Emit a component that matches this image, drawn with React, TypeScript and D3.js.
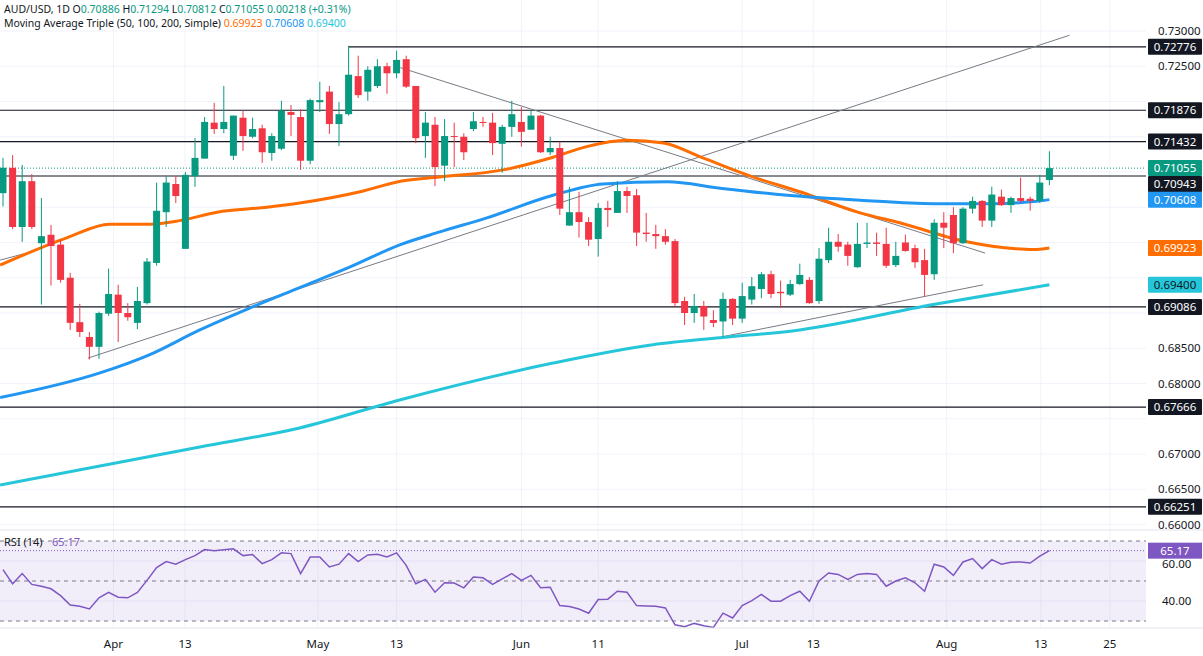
import React from "react";
import * as d3 from "d3";

// OHLC per daily candle (index 0 = first visible bar)
const opens = [0.7070,0.7106,0.7022,0.7087,0.6999,0.7011,0.6997,0.6950,0.6887,0.6866,0.6852,0.6899,0.6926,0.6900,0.6886,0.6914,0.6971,0.7043,0.7083,0.6991,0.7094,0.7119,0.7170,0.7161,0.7123,0.7177,0.7150,0.7162,0.7127,0.7133,0.7185,0.7178,0.7116,0.7199,0.7214,0.7168,0.7182,0.7236,0.7214,0.7222,0.7250,0.7240,0.7260,0.7222,0.7151,0.7167,0.7109,0.7151,0.7150,0.7161,0.7171,0.7170,0.7140,0.7164,0.7171,0.7160,0.7180,0.7128,0.7134,0.7024,0.7043,0.7029,0.7005,0.7049,0.7042,0.7073,0.7067,0.7014,0.7012,0.7009,0.7002,0.6917,0.6900,0.6910,0.6890,0.6888,0.6920,0.6892,0.6919,0.6934,0.6955,0.6930,0.6926,0.6941,0.6947,0.6917,0.6975,0.7001,0.6997,0.6965,0.6998,0.7000,0.6998,0.6968,0.7000,0.6992,0.6975,0.6955,0.7028,0.7039,0.6999,0.7048,0.7059,0.7031,0.7065,0.7053,0.7063,0.7062,0.7059,0.70886];
const highs = [0.7120,0.7124,0.7110,0.7097,0.7063,0.7025,0.7004,0.6957,0.6913,0.6873,0.6902,0.6963,0.6940,0.6914,0.6937,0.6978,0.7085,0.7094,0.7094,0.7100,0.7148,0.7178,0.7198,0.7222,0.7180,0.7187,0.7177,0.7167,0.7155,0.7201,0.7195,0.7189,0.7204,0.7228,0.7222,0.7199,0.7279,0.7265,0.7250,0.7260,0.7255,0.7272,0.7265,0.7222,0.7185,0.7178,0.7175,0.7170,0.7155,0.7185,0.7178,0.7184,0.7167,0.7201,0.7192,0.7188,0.7181,0.7150,0.7143,0.7079,0.7072,0.7036,0.7056,0.7059,0.7087,0.7079,0.7076,0.7042,0.7025,0.7019,0.7005,0.6923,0.6927,0.6917,0.6904,0.6929,0.6921,0.6943,0.6951,0.6958,0.6960,0.6946,0.6947,0.6970,0.6951,0.6992,0.7021,0.7012,0.7001,0.7028,0.7028,0.7014,0.7021,0.7001,0.7011,0.6997,0.6991,0.7033,0.7043,0.7050,0.7050,0.7065,0.7060,0.7079,0.7075,0.7065,0.7092,0.7065,0.7096,0.71294];
const lows = [0.7051,0.7019,0.7001,0.7019,0.6912,0.6939,0.6943,0.6876,0.6866,0.6834,0.6835,0.6896,0.6859,0.6889,0.6877,0.6912,0.6967,0.7022,0.7056,0.6991,0.7079,0.7119,0.7154,0.7155,0.7117,0.7130,0.7148,0.7113,0.7116,0.7131,0.7151,0.7103,0.7111,0.7185,0.7154,0.7137,0.7180,0.7205,0.7201,0.7219,0.7211,0.7233,0.7219,0.7141,0.7120,0.7080,0.7087,0.7107,0.7117,0.7158,0.7164,0.7124,0.7099,0.7150,0.7136,0.7160,0.7127,0.7124,0.7039,0.7024,0.7007,0.6995,0.6980,0.7022,0.7042,0.7042,0.6995,0.7001,0.6991,0.6997,0.6909,0.6883,0.6886,0.6876,0.6880,0.6866,0.6883,0.6886,0.6912,0.6921,0.6921,0.6907,0.6924,0.6940,0.6913,0.6913,0.6971,0.6987,0.6967,0.6964,0.6992,0.6981,0.6964,0.6965,0.6987,0.6964,0.6923,0.6947,0.6992,0.6985,0.6998,0.7041,0.7022,0.7022,0.7052,0.7042,0.7056,0.7045,0.7056,0.70812];
const closes = [0.7106,0.7022,0.7087,0.7022,0.7009,0.6995,0.6947,0.6886,0.6873,0.6852,0.6900,0.6927,0.6900,0.6894,0.6917,0.6973,0.7045,0.7085,0.7066,0.7096,0.7120,0.7171,0.7161,0.7171,0.7180,0.7151,0.7161,0.7128,0.7151,0.7187,0.7181,0.7116,0.7202,0.7202,0.7168,0.7182,0.7238,0.7209,0.7245,0.7250,0.7240,0.7259,0.7221,0.7148,0.7170,0.7107,0.7151,0.7150,0.7128,0.7172,0.7170,0.7141,0.7164,0.7182,0.7157,0.7180,0.7128,0.7134,0.7048,0.7043,0.7029,0.7004,0.7049,0.7046,0.7073,0.7066,0.7014,0.7012,0.7009,0.7001,0.6914,0.6900,0.6910,0.6895,0.6886,0.6920,0.6892,0.6924,0.6938,0.6955,0.6927,0.6928,0.6941,0.6954,0.6914,0.6977,0.7001,0.6994,0.6981,0.6998,0.7000,0.6998,0.6967,0.6981,0.6988,0.6972,0.6954,0.7028,0.7021,0.6999,0.7048,0.7059,0.7031,0.7068,0.7053,0.7063,0.7059,0.7059,0.7085,0.71055];

// Moving averages sampled [barIndex, value]
const sma50 = [[-0.3,0.6968],[6.7,0.7007],[11.1,0.7026],[15.3,0.7026],[18.4,0.7031],[22.3,0.7043],[27.5,0.7050],[30.9,0.7056],[37.2,0.7072],[41.4,0.7087],[45.5,0.7093],[52.1,0.7103],[57.3,0.7121],[60.8,0.7136],[65,0.7145],[68.8,0.7141],[72.9,0.7120],[78.1,0.7093],[83,0.7072],[89.3,0.7042],[93.4,0.7028],[100.4,0.7001],[105.5,0.6991],[107.3,0.6990],[109,0.69923]];
const sma100 = [[-0.3,0.6780],[10.1,0.6815],[15.3,0.6841],[20.5,0.6876],[25.7,0.6907],[30.9,0.6936],[36.1,0.6965],[41.4,0.6997],[45.5,0.7015],[50.4,0.7035],[57.3,0.7067],[62.5,0.7083],[69.2,0.7086],[74.7,0.7077],[81.7,0.7067],[89.3,0.7060],[96.9,0.7055],[103,0.7055],[107.3,0.7058],[109,0.70608]];
const sma200 = [[-0.3,0.6656],[10.1,0.6683],[20.5,0.6710],[30.9,0.6737],[41.4,0.6777],[57.3,0.6829],[67.7,0.6855],[74.7,0.6865],[83,0.6876],[96.9,0.6912],[109,0.6940]];

const rsi = [55.7,48.6,53.7,48.3,47.4,46.1,42.7,38,37.4,36,41.6,44.3,41.9,41.6,44.3,50.3,56.7,59.7,58.4,60.7,62.7,65.7,65.1,65.6,66.1,62.7,63.2,58.7,60.7,64.1,63.7,53.7,62,62,57,58.4,63.7,59.7,63,63.4,62,64.1,57.8,48.6,50.8,44.4,49.1,49,46.6,52,51.6,48.3,51.1,53.7,50.3,52.8,46.6,46.9,37.7,37.2,36,33.9,40.7,40.9,44.9,44.4,37.7,37.5,37.4,36.5,28.1,27.1,28.8,27.6,26.8,33.9,31.5,37.7,40.2,43.3,39.9,39.9,42.7,44.9,39.9,50,54,53.3,50.8,53.3,53.7,53.3,47.4,50,51.6,49.1,44.9,58.4,57,52.8,59.5,61.2,56.2,60.7,58.4,59.4,59.5,59,62.4,65.17];

const levels = [0.72776,0.71876,0.71432,0.70943,0.69086,0.67666,0.66251];
const trendLines = [[[8.85,0.6836],[111.1,0.7294]],[[41.4,0.7248],[102.3,0.6985]],[[74.8,0.6866],[102.1,0.6940]],[[-0.3,0.6975],[3,0.6987]]];
const priceTicks = d3.range(0.66,0.73001,0.005);
const dateTickIdx = [11.5,18.96,32.8,41,54,62,77,84.4,98.3,108.1,115.3];
const dateTickLabels = ["Apr","13","May","13","Jun","11","Jul","13","Aug","13","25"];
const maColors = ["#ff6d00","#2196f3","#26c6da"];
const GREEN = "#089981", RED = "#f23645";
const legend1: [string,string][] = [["AUD/USD, 1D ","#131722"],["O","#131722"],["0.70886 ",GREEN],["H","#131722"],["0.71294 ",GREEN],["L","#131722"],["0.70812 ",GREEN],["C","#131722"],["0.71055 ",GREEN],["0.00218 (+0.31%)",GREEN]];
const legend2: [string,string][] = [["Moving Average Triple (50, 100, 200, Simple) ","#131722"],["0.69923 ",maColors[0]],["0.70608 ",maColors[1]],["0.69400",maColors[2]]];

function Legend({items, y, font, size}:{items:[string,string][], y:number, font:string, size:number}) {
  const ref = React.useRef<SVGGElement>(null);
  React.useEffect(()=>{
    const g = ref.current; if(!g) return;
    let cx = 4;
    g.querySelectorAll("text").forEach(t=>{ t.setAttribute("x", String(cx)); cx += (t as SVGTextElement).getComputedTextLength(); });
  },[]);
  return <g ref={ref}>{items.map((it,i)=><text key={i} x={4+i*40} y={y} fontSize={size} fontFamily={font} fill={it[1]} style={{whiteSpace:"pre"}}>{it[0]}</text>)}</g>;
}

export default function App() {
  const W = 1203, H = 656, plotR = 1146;
  const x = d3.scaleLinear().domain([0,109]).range([3,1049.4]);
  const y = d3.scaleLinear().domain([0.66,0.73]).range([524.5,31]);
  const ry = d3.scaleLinear().domain([30,70]).range([621,541]);
  const line = d3.line<number[]>().x(d=>x(d[0])).y(d=>y(d[1])).curve(d3.curveMonotoneX);
  const rsiLine = d3.line<number>().x((_,i)=>x(i)).y(d=>ry(d));
  const font = "'Noto Sans', sans-serif";
  const last = closes.length-1;
  const boxes: [number,string,string,number][] = [
    [0.72776,"#131722","#fff",0],[0.71876,"#131722","#fff",0],[0.71432,"#131722","#fff",0],
    [closes[last],GREEN,"#fff",0],[0.70943,"#131722","#fff",8],[0.70608,"#2196f3","#fff",0],
    [0.69923,"#ff6d00","#fff",0],[0.69400,"#26c6da","#131722",0],[0.69086,"#131722","#fff",0],
    [0.67666,"#131722","#fff",0],[0.66251,"#131722","#fff",0]];
  const boxYs = boxes.map(b=>y(b[0])+b[3]);
  const visibleTicks = priceTicks.filter(p=>boxYs.every(by=>Math.abs(by-y(p))>14));
  return (
    <svg width={W} height={H} style={{position:"fixed",left:0,top:0,background:"#fff"}}>
      <rect width={W} height={H} fill="#fff"/>
      <defs><clipPath id="pc"><rect x={0} y={0} width={plotR} height={530}/></clipPath></defs>
      {priceTicks.map((p,i)=><line key={"g"+i} x1={0} x2={plotR} y1={y(p)} y2={y(p)} stroke="#f0f3fa"/>)}
      {dateTickIdx.map((t,i)=><line key={"v"+i} x1={x(t)} x2={x(t)} y1={0} y2={628} stroke="#f0f3fa"/>)}
      <g clipPath="url(#pc)">
        {levels.map((l,i)=><line key={"l"+i} x1={i===0?x(36):0} x2={plotR} y1={y(l)} y2={y(l)} stroke="#131722" strokeWidth={1.2}/>)}
        <line x1={0} x2={plotR} y1={y(closes[last])} y2={y(closes[last])} stroke={GREEN} strokeDasharray="1 2"/>
        {trendLines.map((t,i)=><line key={"t"+i} x1={x(t[0][0])} y1={y(t[0][1])} x2={x(t[1][0])} y2={y(t[1][1])} stroke="#787b86" strokeWidth={1}/>)}
        {[sma50,sma100,sma200].map((m,i)=><path key={"m"+i} d={line(m as number[][])!} fill="none" stroke={maColors[i]} strokeWidth={3}/>)}
        {closes.map((c,i)=>{
          const o=opens[i], up=c>=o, col=up?GREEN:RED;
          const top=y(Math.max(o,c)), bot=y(Math.min(o,c));
          return <g key={"c"+i}>
            <line x1={x(i)} x2={x(i)} y1={y(highs[i])} y2={y(lows[i])} stroke={col} strokeWidth={1}/>
            <rect x={x(i)-3.5} y={top} width={7} height={Math.max(1,bot-top)} fill={col}/>
          </g>;})}
      </g>
      {visibleTicks.map((p,i)=><text key={"pt"+i} x={1158} y={y(p)+4} fontSize={11.5} fill="#131722" fontFamily={font}>{p.toFixed(5)}</text>)}
      {boxes.map((b,i)=>(
        <g key={"b"+i}>
          <rect x={1148} y={boxYs[i]-8} width={54} height={16} fill={b[1]} rx={1}/>
          <text x={1175} y={boxYs[i]+4} textAnchor="middle" fontSize={11.5} fill={b[2]} fontFamily={font}>{b[0].toFixed(5)}</text>
        </g>))}
      <Legend items={legend1} y={13} font={font} size={10.5}/>
      <Legend items={legend2} y={27} font={font} size={10.5}/>
      {/* RSI pane */}
      <line x1={0} x2={W} y1={530} y2={530} stroke="#e0e3eb"/>
      <rect x={0} y={ry(70)} width={plotR} height={ry(30)-ry(70)} fill="#7e57c2" fillOpacity={0.1}/>
      {[70,50,30].map(v=><line key={"r"+v} x1={0} x2={plotR} y1={ry(v)} y2={ry(v)} stroke="#787b86" strokeDasharray="4 4"/>)}
      {[60,40].map(v=><line key={"rg"+v} x1={0} x2={plotR} y1={ry(v)} y2={ry(v)} stroke="#e6e0f3"/>)}
      <line x1={0} x2={plotR} y1={ry(65.17)} y2={ry(65.17)} stroke="#7e57c2" strokeDasharray="1 2"/>
      <path d={rsiLine(rsi)!} fill="none" stroke="#7e57c2" strokeWidth={1.5}/>
      <text x={4} y={546} fontSize={11} fontFamily={font} fill="#131722">RSI (14)</text>
      <text x={52} y={546} fontSize={11} fontFamily={font} fill="#7e57c2">65.17</text>
      {[60,40].map(v=><text key={"rt"+v} x={1162} y={ry(v)+4+(v===60?3:0)} fontSize={11.5} fontFamily={font} fill="#131722">{v.toFixed(2)}</text>)}
      <rect x={1148} y={ry(65.17)-8} width={54} height={16} fill="#7e57c2"/>
      <text x={1175} y={ry(65.17)+4} textAnchor="middle" fontSize={11.5} fill="#fff" fontFamily={font}>65.17</text>
      <line x1={0} x2={W} y1={628} y2={628} stroke="#e0e3eb"/>
      {dateTickIdx.map((t,i)=><text key={"d"+i} x={x(t)} y={648} textAnchor="middle" fontSize={11.5} fontFamily={font} fill="#131722">{dateTickLabels[i]}</text>)}
    </svg>
  );
}
